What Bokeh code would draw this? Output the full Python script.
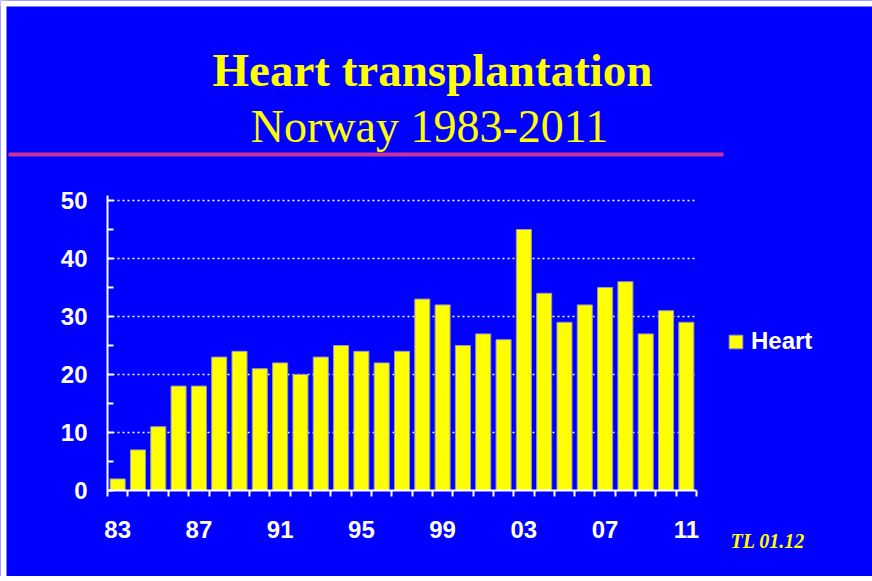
from bokeh.plotting import figure
from bokeh.models import (Range1d, FixedTicker, Legend, LegendItem, Label,
                          BoxAnnotation, ColumnDataSource)
from bokeh.embed import file_html
from bokeh.resources import INLINE

# ---- data ----
years = ["83", "84", "85", "86", "87", "88", "89", "90", "91", "92", "93", "94",
         "95", "96", "97", "98", "99", "00", "01", "02", "03", "04", "05", "06",
         "07", "08", "09", "10", "11"]
heart = [2, 7, 11, 18, 18, 23, 24, 21, 22, 20, 23, 25, 24, 22, 24, 33, 32, 25,
         27, 26, 45, 34, 29, 32, 35, 36, 27, 31, 29]
y_ticks = [0, 10, 20, 30, 40, 50]
y_minor = [5, 15, 25, 35, 45]
label_every = 4

BLUE = "#0000FF"
YELLOW = "#FFFF00"

W, H = 872, 576
AX_X, AX_Y = 107, 490    # page px of the axes' origin
PX_X = 589 / 29          # px per category
PX_Y = 5.8               # px per unit
n = len(years)

p = figure(width=W, height=H, output_backend="svg", toolbar_location=None,
           x_range=Range1d(-0.5 - AX_X / PX_X, -0.5 + (W - AX_X) / PX_X),
           y_range=Range1d(-(H - AX_Y) / PX_Y, AX_Y / PX_Y),
           min_border=0, min_border_left=0, min_border_right=0,
           min_border_top=0, min_border_bottom=0,
           background_fill_color=BLUE, border_fill_color=BLUE)
p.outline_line_color = None
p.xgrid.visible = False
p.ygrid.visible = False


def fx(px):
    return -0.5 + (px - AX_X) / PX_X


def fy(py):
    return (AX_Y - py) / PX_Y


# white page edge seen in the reference
p.add_layout(BoxAnnotation(bottom=fy(6), fill_color="white", fill_alpha=1,
                           line_color=None))
p.add_layout(BoxAnnotation(right=fx(6), fill_color="white", fill_alpha=1,
                           line_color=None))

# dotted horizontal grid lines over the plot width
p.segment(x0=[-0.5] * (len(y_ticks) - 1), x1=[n - 0.6] * (len(y_ticks) - 1),
          y0=y_ticks[1:], y1=y_ticks[1:], line_color="white",
          line_dash="2 3", line_width=1.5)

src = ColumnDataSource(dict(x=list(range(n)), top=heart))
bars = p.vbar(x="x", top="top", width=0.74, source=src, fill_color=YELLOW,
              line_color="#9a9aa8", line_width=1)

# x axis
xa = p.xaxis[0]
xa.fixed_location = 0
xa.bounds = (-0.5, n - 0.5)
xa.ticker = FixedTicker(ticks=list(range(0, n, label_every)),
                        minor_ticks=[i - 0.5 for i in range(n + 1)])
xa.major_label_overrides = {i: years[i] for i in range(0, n, label_every)}
xa.major_tick_line_color = None
xa.major_tick_out = 0
xa.major_tick_in = 0
xa.minor_tick_out = 6
xa.minor_tick_in = 0
xa.minor_tick_line_color = "white"
xa.minor_tick_line_width = 2
xa.axis_line_color = "white"
xa.axis_line_width = 2
xa.major_label_text_color = "white"
xa.major_label_text_font = "Liberation Sans"
xa.major_label_text_font_style = "bold"
xa.major_label_text_font_size = "24px"
xa.major_label_standoff = 24

# y axis
ya = p.yaxis[0]
ya.fixed_location = -0.5
ya.bounds = (0, 50.9)
ya.ticker = FixedTicker(ticks=y_ticks, minor_ticks=y_minor)
ya.major_tick_in = 6
ya.major_tick_out = 0
ya.minor_tick_in = 6
ya.minor_tick_out = 0
ya.major_tick_line_color = "white"
ya.minor_tick_line_color = "white"
ya.major_tick_line_width = 2
ya.minor_tick_line_width = 2
ya.axis_line_color = "white"
ya.axis_line_width = 2
ya.major_label_text_color = "white"
ya.major_label_text_font = "Liberation Sans"
ya.major_label_text_font_style = "bold"
ya.major_label_text_font_size = "24px"
ya.major_label_standoff = 20

# legend
legend = Legend(items=[LegendItem(label="Heart", renderers=[bars])],
                location=(727, H - 355), glyph_width=17, glyph_height=17,
                label_text_font="Liberation Sans", label_text_font_style="bold",
                label_text_font_size="24px", label_text_color="white",
                label_standoff=7, padding=0, margin=0, spacing=0,
                border_line_color=None, background_fill_alpha=0)
p.add_layout(legend)

# titles (baseline compensated for Bokeh's text placement)
p.add_layout(Label(x=fx(432), y=fy(85 - 16), text="Heart transplantation",
                   text_font="Liberation Serif", text_font_style="bold",
                   text_font_size="47px", text_color=YELLOW, text_align="center",
                   text_baseline="alphabetic"))
p.add_layout(Label(x=fx(429), y=fy(142 - 16), text="Norway 1983-2011",
                   text_font="Liberation Serif", text_font_size="46px",
                   text_color=YELLOW, text_align="center",
                   text_baseline="alphabetic"))
p.add_layout(BoxAnnotation(left=fx(8), right=fx(723), top=fy(152), bottom=fy(156),
                           fill_color="#CC3399", fill_alpha=1, line_color=None))
p.add_layout(Label(x=fx(730), y=fy(548 - 8), text="TL 01.12",
                   text_font="Liberation Serif", text_font_style="bold italic",
                   text_font_size="20px", text_color=YELLOW, text_align="left",
                   text_baseline="alphabetic"))

open("out.html", "w").write(file_html(p, INLINE))
